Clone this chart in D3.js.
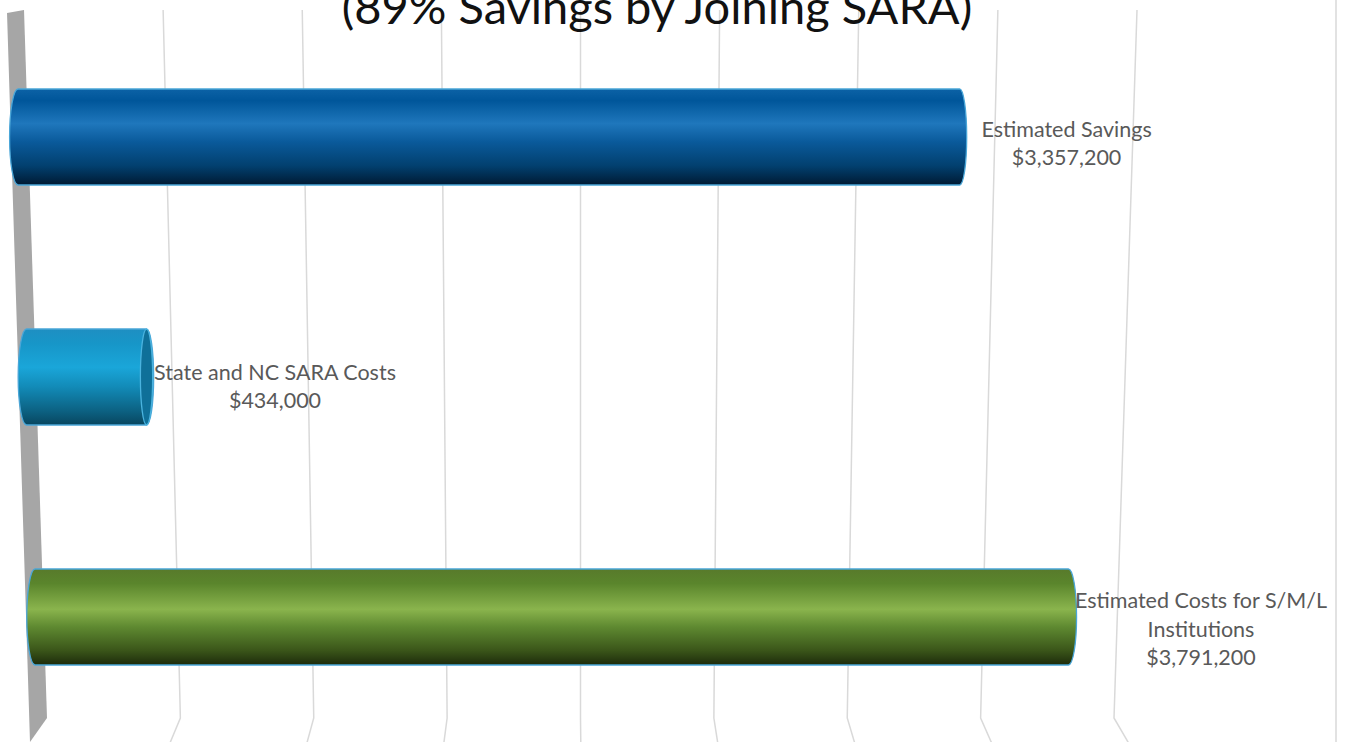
<!DOCTYPE html>
<html>
  <head>
    <meta charset="utf-8">
    <title>SARA savings</title>
    <script src="https://cdn.jsdelivr.net/npm/d3@7"></script>
    <style>
      body { margin: 0; background: #fff; overflow: hidden; }
      svg { display: block; }
      .title { font-family: Lato, "Open Sans", sans-serif; font-size: 47px; fill: #111; }
      .label { font-family: Lato, "Open Sans", sans-serif; font-size: 21.5px; fill: #595959; }
      .grid { stroke: #d9d9d9; stroke-width: 1.5; fill: none; }
    </style>
  </head>
  <body>
    <svg id="chart" width="1345" height="742"></svg>
    <script>
      // data
      var title = "(89% Savings by Joining SARA)";
      var categories = ["Estimated Savings", "State and NC SARA Costs", "Estimated Costs for S/M/L Institutions"];
      var values = [3357200, 434000, 3791200];
      var tickValues = [500000, 1000000, 1500000, 2000000, 2500000, 3000000, 3500000, 4000000];

      // cylinder shading, top to bottom
      var shades = [
        [["0", "#0c62a6"], ["0.12", "#00569a"], ["0.36", "#1f77bc"], ["0.55", "#0a5a9b"], ["0.8", "#02406f"], ["1", "#001a33"]],
        [["0", "#1e8fc2"], ["0.15", "#1796c8"], ["0.4", "#1aa6d9"], ["0.6", "#128bb8"], ["0.85", "#0c6283"], ["1", "#08465f"]],
        [["0", "#587a2b"], ["0.15", "#5a852c"], ["0.42", "#8ab44d"], ["0.6", "#5f8a31"], ["0.85", "#3a5519"], ["1", "#1d2b0b"]]
      ];
      var faceColour = ["#074f86", "#0f7099", "#4d7024"];

      var width = 1345, height = 742;
      var svg = d3.select("#chart");
      var defs = svg.append("defs");

      // value scale shared by the back wall and the bars
      var x = d3.scaleLinear().domain([0, 4000000]);

      // back wall: gridlines run from y 10 down to the floor edge at y 718
      var wallTop = 10, wallBottom = 718;
      var gridTop = x.copy().range([24, 1137]);
      var gridBottom = x.copy().range([47, 1114]);
      function gridX(v, yy) {
        var t = (yy - wallTop) / (wallBottom - wallTop);
        return gridTop(v) + (gridBottom(v) - gridTop(v)) * t;
      }

      // bars sit in front of the wall, so their own perspective
      var barNearY = 137, barFarY = 617;
      var barNear = x.copy().range([18, 1140]);
      var barFar = x.copy().range([35, 1125.4]);
      function barX(v, yy) {
        var t = (yy - barNearY) / (barFarY - barNearY);
        return barNear(v) + (barFar(v) - barNear(v)) * t;
      }
      var cameraX = 560;
      function capRx(px) { return 3 + Math.abs(px - cameraX) / 100; }

      var y = d3.scaleBand()
        .domain(categories)
        .range([17, 737])
        .paddingInner(0.6)
        .paddingOuter(0.3);

      // grey side wall
      svg.append("path")
        .attr("d", "M7,13L24,10L47,718L30,742Z")
        .attr("fill", "#a6a6a6");

      // gridlines, bending onto the floor
      svg.selectAll(".grid")
        .data(tickValues)
        .enter().append("path")
          .attr("class", "grid")
          .attr("d", function(d) {
            var xb = gridX(d, wallBottom);
            var dx = -10 + (xb - 180) * 0.0257;
            return "M" + gridX(d, wallTop) + "," + wallTop + "L" + xb + "," + wallBottom +
              "L" + (xb + dx * 1.5) + "," + (wallBottom + 36);
          });
      // right edge of the plot area
      svg.append("line")
        .attr("class", "grid")
        .attr("x1", 1336).attr("x2", 1336)
        .attr("y1", 0).attr("y2", height);

      // gradients
      shades.forEach(function(stops, i) {
        var grad = defs.append("linearGradient")
          .attr("id", "shade" + i)
          .attr("x1", 0).attr("x2", 0).attr("y1", 0).attr("y2", 1);
        grad.selectAll("stop")
          .data(stops)
          .enter().append("stop")
            .attr("offset", function(d) { return d[0]; })
            .attr("stop-color", function(d) { return d[1]; });
      });

      function cylinder(x0, x1, top, bottom, rx0, rx1) {
        var ry = (bottom - top) / 2;
        return "M" + x0 + "," + top + "L" + x1 + "," + top +
          "A" + rx1 + "," + ry + " 0 0 1 " + x1 + "," + bottom +
          "L" + x0 + "," + bottom +
          "A" + rx0 + "," + ry + " 0 0 1 " + x0 + "," + top + "Z";
      }

      var rows = categories.map(function(c, i) {
        var top = y(c), bottom = y(c) + y.bandwidth(), mid = top + y.bandwidth() / 2;
        var x0 = barX(0, mid), x1 = barX(values[i], mid);
        return { name: c, value: values[i], i: i, top: top, bottom: bottom, mid: mid,
          x0: x0, x1: x1, rx0: capRx(x0), rx1: capRx(x1) };
      });

      var bars = svg.selectAll(".bar")
        .data(rows)
        .enter().append("g")
          .attr("class", "bar");
      bars.append("path")
        .attr("d", function(d) { return cylinder(d.x0, d.x1, d.top, d.bottom, d.rx0, d.rx1); })
        .attr("fill", function(d) { return "url(#shade" + d.i + ")"; })
        .attr("stroke", "#4aa6d8")
        .attr("stroke-width", 1.3);
      // end face shows only when the bar stops left of the camera
      bars.filter(function(d) { return d.x1 < cameraX; })
        .append("ellipse")
          .attr("cx", function(d) { return d.x1; })
          .attr("cy", function(d) { return d.mid; })
          .attr("rx", function(d) { return d.rx1 - 1; })
          .attr("ry", function(d) { return y.bandwidth() / 2; })
          .attr("fill", function(d) { return faceColour[d.i]; })
          .attr("stroke", "#4ab3df")
          .attr("stroke-width", 1.3);

      // data labels, wrapped like excel at ~20% of the chart width
      var fmt = d3.format("$,.0f");
      var maxLabel = width * 0.2;
      var lineHeight = 28.5;
      var probe = svg.append("text").attr("class", "label");
      function measure(s) { probe.text(s); return probe.node().getComputedTextLength(); }
      rows.forEach(function(d) {
        var words = d.name.split(" "), lines = [], line = "";
        words.forEach(function(w) {
          var test = line ? line + " " + w : w;
          if (line && measure(test) > maxLabel) { lines.push(line); line = w; }
          else line = test;
        });
        lines.push(line);
        lines.push(fmt(d.value));
        var blockW = d3.max(lines, measure);
        var cx = d.x1 + d.rx1 + 48.8 + 0.3 * blockW;
        var cy = d.mid + 6.5 + (d.mid - barNearY) * 0.0115;
        var firstY = cy - (lines.length - 1) * lineHeight / 2 + 7.5;
        var text = svg.append("text")
          .attr("class", "label")
          .attr("text-anchor", "middle");
        lines.forEach(function(l, k) {
          text.append("tspan")
            .attr("x", cx)
            .attr("y", firstY + k * lineHeight)
            .text(l);
        });
      });
      probe.remove();

      // title, cut off at the top of the frame as in the source
      svg.append("text")
        .attr("class", "title")
        .attr("x", 657)
        .attr("y", 24)
        .attr("text-anchor", "middle")
        .text(title);
    </script>
  </body>
</html>
